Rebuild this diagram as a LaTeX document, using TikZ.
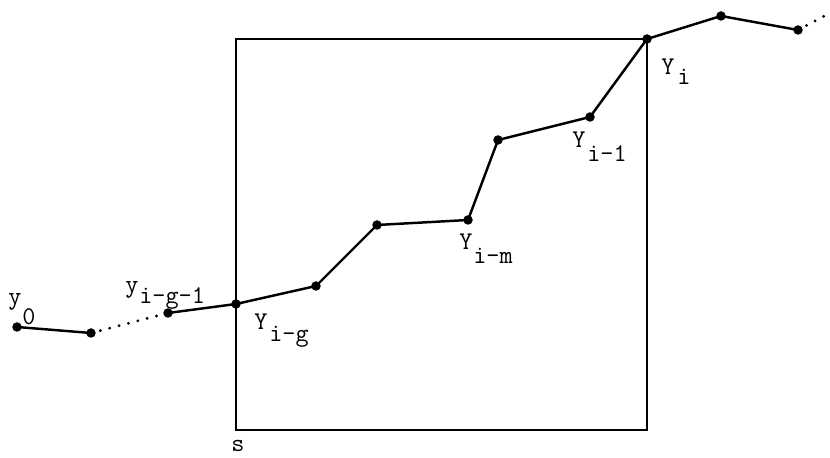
\documentclass[tikz,border=0pt]{standalone}
\usepackage{tikz}

\begin{document}
\begin{tikzpicture}[x=2cm, y=2cm, every node/.style={font=\fontsize{14.5}{16}\selectfont\ttfamily, inner sep=0pt, anchor=base west}]
	\useasboundingbox (0,0) rectangle (8.30,4.58);
	% sample points
	\coordinate (y0) at (0.17,1.31);
	\coordinate (y1) at (0.91,1.25);
	\coordinate (ygg) at (1.68,1.45);
	\coordinate (yg) at (2.36,1.54);
	\coordinate (ya) at (3.16,1.72);
	\coordinate (yb) at (3.77,2.33);
	\coordinate (ym) at (4.68,2.38);
	\coordinate (yc) at (4.98,3.18);
	\coordinate (yi1) at (5.90,3.41);
	\coordinate (yi) at (6.47,4.19);
	\coordinate (yd) at (7.21,4.42);
	\coordinate (ye) at (7.98,4.28);
	\coordinate (yend) at (8.30,4.45);
	\coordinate (sw) at (2.36,0.28);
	% window
	\draw[line width=1.5pt] (sw) rectangle (yi);
	% path
	\draw[line width=1.4pt] (y0) -- (y1);
	\draw[line width=1.8pt, line cap=round, dash pattern=on 0pt off 5.5pt] (y1) -- (ygg);
	\draw[line width=1.4pt] (ygg) -- (yg) -- (ya) -- (yb) -- (ym) -- (yc) -- (yi1) -- (yi) -- (yd) -- (ye);
	\draw[line width=1.8pt, line cap=round, dash pattern=on 0pt off 5.5pt] (ye) -- (yend);
	\foreach \p in {y0,y1,ygg,yg,ya,yb,ym,yc,yi1,yi,yd,ye}
		\fill (\p) circle (2.7pt);
	% labels
	\node (l0) at (0.08,1.53) {y};
	\node (l0s) at (0.22,1.33) {0};
	\node (lgg) at (1.25,1.65) {y};
	\node (lggs) at (1.39,1.54) {i-g-1};
	\node (lg) at (2.54,1.28) {Y};
	\node (lgs) at (2.69,1.16) {i-g};
	\node (lm) at (4.59,2.08) {Y};
	\node (lms) at (4.73,1.94) {i-m};
	\node (li1) at (5.72,3.10) {Y};
	\node (li1s) at (5.87,2.96) {i-1};
	\node (li) at (6.61,3.83) {Y};
	\node (lis) at (6.77,3.73) {i};
	\node (ls) at (2.31,0.06) {s};
\end{tikzpicture}
\end{document}
